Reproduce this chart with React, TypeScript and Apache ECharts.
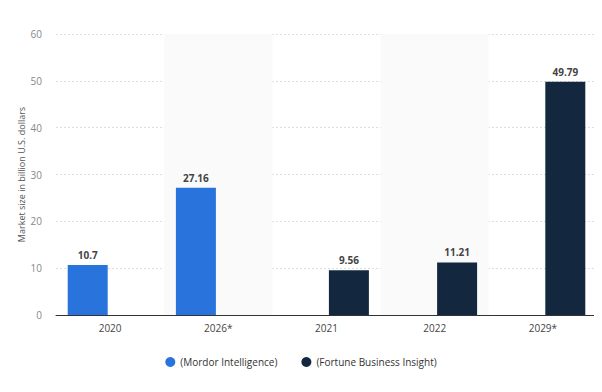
import React, { useEffect, useRef } from "react";
import * as echarts from "echarts";

const categories = ["2020", "2026*", "2021", "2022", "2029*"];
const mordor = [10.7, 27.16, null, null, null];
const fortune = [null, null, 9.56, 11.21, 49.79];
const seriesNames = ["(Mordor Intelligence)", "(Fortune Business Insight)"];

export default function App() {
  const ref = useRef<HTMLDivElement>(null);
  useEffect(() => {
    const chart = echarts.init(ref.current!, null, { renderer: "svg" });
    const label = {
      show: true,
      position: "top",
      fontSize: 10,
      fontWeight: "bold",
      color: "#444",
      fontFamily: "Open Sans",
      distance: 5,
    };
    chart.setOption({
      animation: false,
      textStyle: { fontFamily: "Open Sans" },
      grid: { left: 56, right: 5, top: 34, bottom: 77 },
      legend: {
        bottom: 20,
        left: "center",
        icon: "circle",
        itemWidth: 10,
        itemHeight: 10,
        itemGap: 24,
        textStyle: { fontSize: 10, color: "#333", fontFamily: "Open Sans" },
        data: seriesNames,
      },
      xAxis: {
        type: "category",
        data: categories,
        axisTick: { show: false },
        axisLine: { lineStyle: { color: "#333", width: 1 } },
        axisLabel: { fontSize: 10, color: "#444", margin: 8 },
        splitArea: { show: true, areaStyle: { color: ["rgba(0,0,0,0)", "#fafafa"] } },
      },
      yAxis: {
        type: "value",
        min: 0,
        max: 60,
        interval: 10,
        name: "Market size in billion U.S. dollars",
        nameLocation: "middle",
        nameGap: 30,
        nameMoveOverlap: false,
        nameTextStyle: { fontSize: 9, color: "#555" },
        axisLabel: { fontSize: 10, color: "#888", margin: 14 },
        axisLine: { show: false },
        axisTick: { show: false },
        splitLine: { lineStyle: { color: "#ddd", type: [2, 2] } },
      },
      series: [
        {
          name: seriesNames[0],
          type: "bar",
          data: mordor,
          barWidth: 40,
          barGap: "12%",
          itemStyle: { color: "#2874dc" },
          label,
        },
        {
          name: seriesNames[1],
          type: "bar",
          data: fortune,
          barWidth: 40,
          barGap: "12%",
          itemStyle: { color: "#13283f" },
          label,
        },
      ],
    });
    return () => chart.dispose();
  }, []);
  return <div ref={ref} style={{ width: 602, height: 392, margin: -8 }} />;
}
